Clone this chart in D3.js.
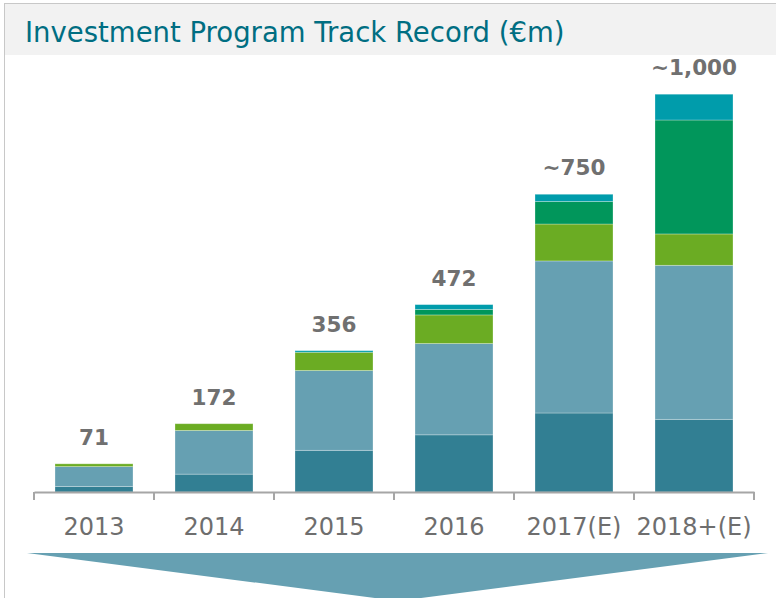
<!DOCTYPE html>
<html>
<head>
<meta charset="utf-8">
<script src="https://cdn.jsdelivr.net/npm/d3@7"></script>
<style>
    body { margin: 0; background: #fff; }
    svg { display: block; }
</style>
</head>
<body>
<div id="chart"></div>
<script>
// Data
var years = ["2013", "2014", "2015", "2016", "2017(E)", "2018+(E)"];
var totalLabels = ["71", "172", "356", "472", "~750", "~1,000"];
var seriesKeys = ["s1", "s2", "s3", "s4", "s5"];
var s1 = [14, 45, 105, 144, 199, 183];
var s2 = [50, 110, 201, 230, 383, 388];
var s3 = [7, 17, 46, 72, 93, 79];
var s4 = [0, 0, 0, 14, 57, 287];
var s5 = [0, 0, 4, 12, 18, 65];
var colors = ["#327f93", "#66a0b2", "#6bac23", "#01965b", "#009cab"];

var rows = years.map(function(y, i) {
    return { year: y, label: totalLabels[i], s1: s1[i], s2: s2[i], s3: s3[i], s4: s4[i], s5: s5[i] };
});

var width = 776,
    height = 598,
    baseline = 492,
    font = "DejaVu Sans, Verdana, sans-serif";

var svg = d3.select("#chart")
    .append("svg")
    .attr("width", width)
    .attr("height", height);

// Title band
svg.append("rect")
    .attr("x", 4)
    .attr("y", 3)
    .attr("width", width - 4)
    .attr("height", 52)
    .attr("fill", "#f2f2f2");

svg.append("line")
    .attr("x1", 4).attr("x2", width)
    .attr("y1", 3.5).attr("y2", 3.5)
    .attr("stroke", "#c8c8c8");

svg.append("line")
    .attr("x1", 4.5).attr("x2", 4.5)
    .attr("y1", 3).attr("y2", height)
    .attr("stroke", "#c8c8c8");

svg.append("text")
    .attr("x", 25)
    .attr("y", 42)
    .style("font-family", font)
    .style("font-size", "27.5px")
    .attr("fill", "#006e82")
    .text("Investment Program Track Record (€m)");

// Scales
var x = d3.scaleBand()
    .domain(years)
    .range([34, 754])
    .paddingInner(0.35)
    .paddingOuter(0.175);

var xTicks = d3.scaleBand()
    .domain(years)
    .range([34, 754]);

var y = d3.scaleLinear()
    .domain([0, 1000])
    .range([baseline, 95]);

var color = d3.scaleOrdinal()
    .domain(seriesKeys)
    .range(colors);

var stacked = d3.stack().keys(seriesKeys)(rows);

// Bars
svg.append("g")
    .selectAll("g")
    .data(stacked)
    .enter()
    .append("g")
    .attr("fill", function(d) {
        return color(d.key);
    })
    .selectAll("rect")
    .data(function(d) {
        return d;
    })
    .enter()
    .append("rect")
    .attr("x", function(d) {
        return x(d.data.year);
    })
    .attr("y", function(d) {
        return y(d[1]);
    })
    .attr("width", x.bandwidth())
    .attr("height", function(d) {
        return y(d[0]) - y(d[1]);
    })
    .attr("stroke", "rgba(255,255,255,0.35)")
    .attr("stroke-width", function(d) {
        return d[1] - d[0] > 0 ? 0.8 : 0;
    });

// Total labels
svg.append("g")
    .selectAll("text")
    .data(rows)
    .enter()
    .append("text")
    .attr("x", function(d) {
        return x(d.year) + x.bandwidth() / 2;
    })
    .attr("y", function(d) {
        return y(d.s1 + d.s2 + d.s3 + d.s4 + d.s5) - 19;
    })
    .attr("text-anchor", "middle")
    .style("font-family", font)
    .style("font-size", "21.5px")
    .style("font-weight", "bold")
    .attr("fill", "#707070")
    .text(function(d) {
        return d.label;
    });

// X axis
var axis = svg.append("g")
    .attr("transform", "translate(0," + baseline + ")")
    .call(d3.axisBottom(xTicks).tickSize(0).tickPadding(26));

axis.select(".domain")
    .attr("stroke", "#a6a6a6")
    .attr("stroke-width", 2);

axis.selectAll(".tick text")
    .style("font-family", font)
    .style("font-size", "24px")
    .attr("fill", "#6e6e6e");

axis.selectAll(".boundary")
    .data(years.concat(["end"]))
    .enter()
    .append("line")
    .attr("class", "boundary")
    .attr("x1", function(d, i) {
        return 34 + i * xTicks.step();
    })
    .attr("x2", function(d, i) {
        return 34 + i * xTicks.step();
    })
    .attr("y1", 0)
    .attr("y2", 8)
    .attr("stroke", "#a6a6a6")
    .attr("stroke-width", 2);

// Arrow below the chart
svg.append("path")
    .attr("d", "M27,553 L768,553 L398,601 Z")
    .attr("fill", "#66a0b2");
</script>
</body>
</html>
